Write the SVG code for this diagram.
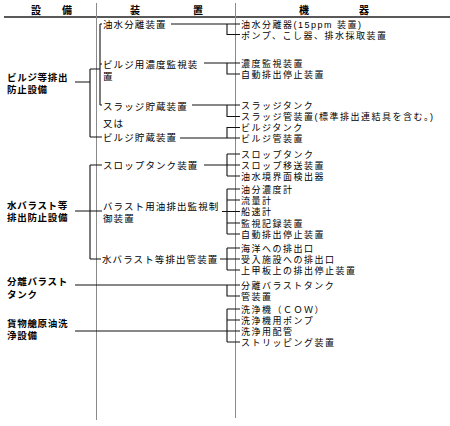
<svg xmlns="http://www.w3.org/2000/svg" width="450" height="426" viewBox="0 0 450 426">
<style>
text{font-family:"Liberation Sans","Noto Sans CJK JP",sans-serif;font-size:9.5px;fill:#000}
.h{font-weight:bold;font-size:10px}
.c1{font-weight:bold;letter-spacing:0.7px}
.c2{letter-spacing:1.1px}
.c3{font-size:9px;letter-spacing:1.5px}
.ln{fill:none;stroke:#111;stroke-width:1.1}
.dv{fill:none;stroke:#8a8a8a;stroke-width:1}
.hd{fill:none;stroke:#222;stroke-width:1.5}
</style>
<rect width="450" height="426" fill="#fff"/>
<g id="header">
<line class="hd" x1="4" y1="17" x2="450" y2="17"/>
<line class="dv" x1="96.5" y1="3" x2="96.5" y2="420"/>
<line class="dv" x1="235.5" y1="3" x2="235.5" y2="418"/>
<text class="h" x="31" y="14">設</text><text class="h" x="62" y="14">備</text>
<text class="h" x="130" y="14">装</text><text class="h" x="193" y="14">置</text>
<text class="h" x="299" y="14">機</text><text class="h" x="359" y="14">器</text>
</g>
<g id="connectors">
<path class="ln" d="M75,82H90M90,69V137M90,69H100M90,137H102M100,24V105M100,24H102M100,64H102M100,105H102"/>
<path class="ln" d="M171,24H240M227,24V34.5H240M204,63H240M227,63V74H240M192,105H240M227,105V116.5H240M180,138H240M227,138V127.5H240"/>
<path class="ln" d="M75,211H102M90,165V259M90,165H102M90,259H101"/>
<path class="ln" d="M204,165H240M227,154V176M227,154H240M227,176H240"/>
<path class="ln" d="M222,211.5H240M227,189V234M227,189H240M227,200H240M227,223H240M227,234H240"/>
<path class="ln" d="M220,259H240M227,248V270M227,248H240M227,270H240"/>
<path class="ln" d="M75,285H240M227,285V296H240"/>
<path class="ln" d="M75,331H240M227,309V342M227,309H240M227,320H240M227,342H240"/>
</g>
<g id="bilge">
<text class="c1" x="7" y="81">ビルジ等排出</text>
<text class="c1" x="7" y="93">防止設備</text>
</g>
<g id="ballast">
<text class="c1" x="7" y="209">水バラスト等</text>
<text class="c1" x="7" y="221">排出防止設備</text>
</g>
<g id="segregated">
<text class="c1" x="7" y="285">分離バラスト</text>
<text class="c1" x="7" y="298">タンク</text>
</g>
<g id="cow">
<text class="c1" x="7" y="327">貨物艙原油洗</text>
<text class="c1" x="7" y="339">浄設備</text>
</g>
<g id="separator"><text class="c2" x="103" y="28">油水分離装置</text></g>
<g id="bilge-monitor"><text class="c2" x="103" y="68">ビルジ用濃度監視装</text><text class="c2" x="103" y="80">置</text></g>
<g id="sludge"><text class="c2" x="103" y="110">スラッジ貯蔵装置</text><text class="c2" x="103" y="127">又は</text></g>
<g id="bilge-storage"><text class="c2" x="103" y="141">ビルジ貯蔵装置</text></g>
<g id="slop"><text class="c2" x="103" y="169">スロップタンク装置</text></g>
<g id="odme"><text class="c2" x="103" y="210">バラスト用油排出監視制</text><text class="c2" x="103" y="222">御装置</text></g>
<g id="discharge"><text class="c2" x="102" y="263">水バラスト等排出管装置</text></g>
<g id="items">
<text class="c3" x="241" y="27.5">油水分離器(15ppm 装置)</text>
<text class="c3" x="241" y="38.5">ポンプ、こし器、排水採取装置</text>
<text class="c3" x="241" y="66.5">濃度監視装置</text>
<text class="c3" x="241" y="77.5">自動排出停止装置</text>
<text class="c3" x="241" y="108.5">スラッジタンク</text>
<text class="c3" x="241" y="120">スラッジ管装置(標準排出連結具を含む。)</text>
<text class="c3" x="241" y="131">ビルジタンク</text>
<text class="c3" x="241" y="142">ビルジ管装置</text>
<text class="c3" x="241" y="157.5">スロップタンク</text>
<text class="c3" x="241" y="168.5">スロップ移送装置</text>
<text class="c3" x="241" y="179.5">油水境界面検出器</text>
<text class="c3" x="241" y="192.5">油分濃度計</text>
<text class="c3" x="241" y="203.5">流量計</text>
<text class="c3" x="241" y="215">船速計</text>
<text class="c3" x="241" y="226.5">監視記録装置</text>
<text class="c3" x="241" y="237.5">自動排出停止装置</text>
<text class="c3" x="241" y="251.5">海洋への排出口</text>
<text class="c3" x="241" y="262.5">受入施設への排出口</text>
<text class="c3" x="241" y="273.5">上甲板上の排出停止装置</text>
<text class="c3" x="241" y="288.5">分離バラストタンク</text>
<text class="c3" x="241" y="299.5">管装置</text>
<text class="c3" x="241" y="312.5">洗浄機（ＣＯＷ）</text>
<text class="c3" x="241" y="323.5">洗浄機用ポンプ</text>
<text class="c3" x="241" y="334.5">洗浄用配管</text>
<text class="c3" x="241" y="345.5">ストリッピング装置</text>
</g>
</svg>
